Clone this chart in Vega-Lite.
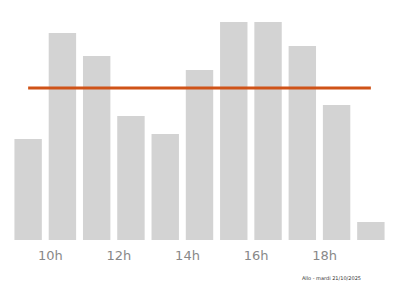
{
  "$schema": "https://vega.github.io/schema/vega-lite/v6.json",
  "width": 377,
  "height": 218,
  "padding": {"left": 11, "top": 22, "right": 0, "bottom": 0},
  "background": "white",
  "config": {"view": {"stroke": null}, "font": "DejaVu Sans"},
  "title": {
    "text": "Allo - mardi 21/10/2025",
    "orient": "bottom",
    "anchor": "end",
    "fontSize": 5,
    "fontWeight": "normal",
    "color": "#333333",
    "dx": -27,
    "offset": 14
  },
  "datasets": {
    "bars": [
      {"h": "9h", "v": 101},
      {"h": "10h", "v": 207},
      {"h": "11h", "v": 184},
      {"h": "12h", "v": 124},
      {"h": "13h", "v": 106},
      {"h": "14h", "v": 170},
      {"h": "15h", "v": 218},
      {"h": "16h", "v": 218},
      {"h": "17h", "v": 194},
      {"h": "18h", "v": 135},
      {"h": "19h", "v": 18}
    ],
    "avg": [
      {"h": "9h", "v": 152},
      {"h": "19h", "v": 152}
    ]
  },
  "layer": [
    {
      "data": {"name": "bars"},
      "mark": {"type": "bar", "color": "#d3d3d3"},
      "encoding": {
        "x": {
          "field": "h",
          "type": "ordinal",
          "sort": null,
          "scale": {"paddingInner": 0.2, "paddingOuter": 0.1},
          "axis": {
            "title": null,
            "values": ["10h", "12h", "14h", "16h", "18h"],
            "domain": false,
            "ticks": false,
            "labelAngle": 0,
            "labelColor": "#888888",
            "labelFontSize": 13,
            "labelPadding": 9,
            "labelOffset": -12
          }
        },
        "y": {
          "field": "v",
          "type": "quantitative",
          "scale": {"domain": [0, 218], "nice": false},
          "axis": null
        }
      }
    },
    {
      "data": {"name": "avg"},
      "mark": {"type": "line", "color": "#cf5318", "strokeWidth": 3},
      "encoding": {
        "x": {"field": "h", "type": "ordinal", "sort": null},
        "y": {"field": "v", "type": "quantitative"}
      }
    }
  ]
}
